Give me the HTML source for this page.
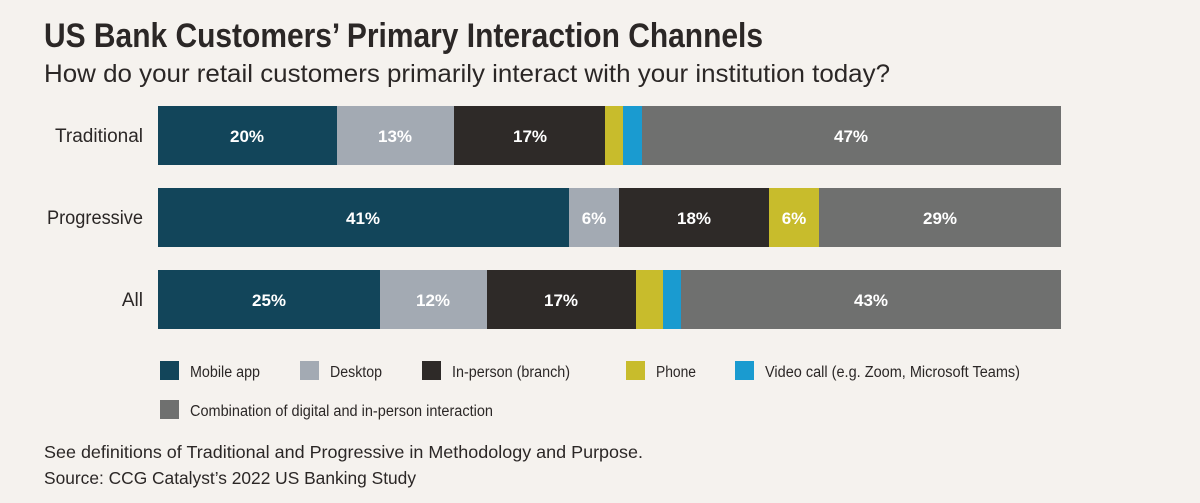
<!DOCTYPE html>
<html><head><meta charset="utf-8"><style>
html,body{margin:0;padding:0;background:#f5f2ee;}
svg{display:block}
</style></head><body>
<svg width="1200" height="503" xmlns="http://www.w3.org/2000/svg">
<rect width="1200" height="503" fill="#f5f2ee"/>
<text x="44" y="47" font-family="Liberation Sans, sans-serif" font-size="34" font-weight="bold" fill="#2b2726" textLength="719" lengthAdjust="spacingAndGlyphs">US Bank Customers’ Primary Interaction Channels</text>
<text x="44" y="82" font-family="Liberation Sans, sans-serif" font-size="25" fill="#2b2726" textLength="846" lengthAdjust="spacingAndGlyphs">How do your retail customers primarily interact with your institution today?</text>
<g font-family="Liberation Sans, sans-serif" font-size="19" fill="#2b2726" text-anchor="end">
<text x="143" y="142" textLength="88" lengthAdjust="spacingAndGlyphs">Traditional</text>
<text x="143" y="224" textLength="96" lengthAdjust="spacingAndGlyphs">Progressive</text>
<text x="143" y="306">All</text>
</g>
<rect x="158" y="106" width="179" height="59" fill="#12455a"/>
<rect x="337" y="106" width="117" height="59" fill="#a3aab3"/>
<rect x="454" y="106" width="151" height="59" fill="#2e2a28"/>
<rect x="605" y="106" width="18" height="59" fill="#c8bc2c"/>
<rect x="623" y="106" width="19" height="59" fill="#1a9bd0"/>
<rect x="642" y="106" width="419" height="59" fill="#6f706f"/>
<rect x="158" y="188" width="411" height="59" fill="#12455a"/>
<rect x="569" y="188" width="50" height="59" fill="#a3aab3"/>
<rect x="619" y="188" width="150" height="59" fill="#2e2a28"/>
<rect x="769" y="188" width="50" height="59" fill="#c8bc2c"/>
<rect x="819" y="188" width="242" height="59" fill="#6f706f"/>
<rect x="158" y="270" width="222" height="59" fill="#12455a"/>
<rect x="380" y="270" width="107" height="59" fill="#a3aab3"/>
<rect x="487" y="270" width="149" height="59" fill="#2e2a28"/>
<rect x="636" y="270" width="27" height="59" fill="#c8bc2c"/>
<rect x="663" y="270" width="18" height="59" fill="#1a9bd0"/>
<rect x="681" y="270" width="380" height="59" fill="#6f706f"/>
<g font-family="Liberation Sans, sans-serif" font-size="17" font-weight="bold" fill="#fff" text-anchor="middle">
<text x="247" y="142">20%</text><text x="395" y="142">13%</text><text x="530" y="142">17%</text><text x="851" y="142">47%</text>
<text x="363" y="224">41%</text><text x="594" y="224">6%</text><text x="694" y="224">18%</text><text x="794" y="224">6%</text><text x="940" y="224">29%</text>
<text x="269" y="306">25%</text><text x="433" y="306">12%</text><text x="561" y="306">17%</text><text x="871" y="306">43%</text>
</g>
<rect x="160" y="361" width="19" height="19" fill="#12455a"/>
<rect x="300" y="361" width="19" height="19" fill="#a3aab3"/>
<rect x="422" y="361" width="19" height="19" fill="#2e2a28"/>
<rect x="626" y="361" width="19" height="19" fill="#c8bc2c"/>
<rect x="735" y="361" width="19" height="19" fill="#1a9bd0"/>
<rect x="160" y="400" width="19" height="19" fill="#6f706f"/>
<g font-family="Liberation Sans, sans-serif" font-size="15.5" fill="#2b2726">
<text x="190" y="377" textLength="70" lengthAdjust="spacingAndGlyphs">Mobile app</text>
<text x="330" y="377" textLength="52" lengthAdjust="spacingAndGlyphs">Desktop</text>
<text x="452" y="377" textLength="118" lengthAdjust="spacingAndGlyphs">In-person (branch)</text>
<text x="656" y="377" textLength="40" lengthAdjust="spacingAndGlyphs">Phone</text>
<text x="765" y="377" textLength="255" lengthAdjust="spacingAndGlyphs">Video call (e.g. Zoom, Microsoft Teams)</text>
<text x="190" y="416" textLength="303" lengthAdjust="spacingAndGlyphs">Combination of digital and in-person interaction</text>
</g>
<g font-family="Liberation Sans, sans-serif" font-size="17.5" fill="#2b2726">
<text x="44" y="458" textLength="599" lengthAdjust="spacingAndGlyphs">See definitions of Traditional and Progressive in Methodology and Purpose.</text>
<text x="44" y="484" textLength="372" lengthAdjust="spacingAndGlyphs">Source: CCG Catalyst’s 2022 US Banking Study</text>
</g>
</svg>
</body></html>
